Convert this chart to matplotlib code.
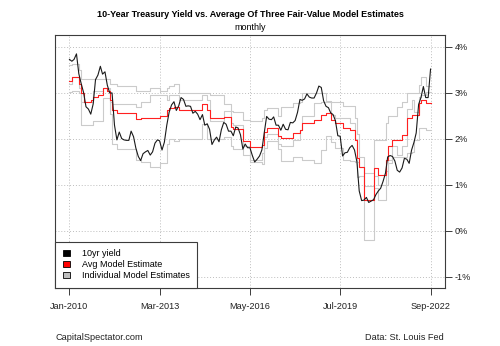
import matplotlib
matplotlib.use("Agg")
import matplotlib.pyplot as plt
import matplotlib.dates as mdates
from matplotlib.patches import Patch
import pandas as pd

# rendimiento mensual del bono a 10 anos (%), ene-2010 a sep-2022
rend_10y = [3.73, 3.69, 3.73, 3.85, 3.42, 3.20, 3.01, 2.70, 2.65, 2.54, 2.76, 3.29,
            3.39, 3.58, 3.41, 3.46, 3.17, 3.00, 3.00, 2.30, 1.98, 2.15, 2.01, 1.98,
            1.97, 1.97, 2.17, 2.05, 1.80, 1.62, 1.53, 1.68, 1.72, 1.75, 1.65, 1.72,
            1.91, 1.98, 1.96, 1.76, 1.93, 2.30, 2.58, 2.74, 2.81, 2.62, 2.72, 2.90,
            2.86, 2.71, 2.72, 2.71, 2.56, 2.60, 2.54, 2.42, 2.53, 2.30, 2.33, 2.21,
            1.88, 1.98, 2.04, 1.94, 2.20, 2.36, 2.32, 2.17, 2.17, 2.07, 2.26, 2.24,
            2.09, 1.78, 1.89, 1.81, 1.81, 1.64, 1.50, 1.56, 1.63, 1.76, 2.14, 2.49,
            2.43, 2.42, 2.48, 2.30, 2.30, 2.19, 2.32, 2.21, 2.20, 2.36, 2.35, 2.40,
            2.58, 2.86, 2.84, 2.87, 2.98, 2.91, 2.89, 2.89, 3.00, 3.15, 3.12, 2.83,
            2.71, 2.68, 2.57, 2.53, 2.40, 2.07, 2.06, 1.63, 1.70, 1.71, 1.81, 1.86,
            1.76, 1.50, 0.87, 0.66, 0.67, 0.73, 0.62, 0.65, 0.68, 0.79, 0.87, 0.93,
            1.08, 1.26, 1.61, 1.64, 1.62, 1.52, 1.32, 1.28, 1.37, 1.58, 1.56, 1.47,
            1.76, 1.93, 2.13, 2.75, 2.90, 3.14, 2.90, 2.90, 3.52]

# media de los tres modelos (cambios escalonados)
fechas_media = ["2010-01", "2010-02", "2010-05", "2010-06", "2010-07", "2010-10",
                "2010-11", "2011-01", "2011-03", "2011-05", "2011-06", "2011-07",
                "2011-09", "2012-05", "2012-07", "2013-03", "2013-06", "2013-07",
                "2013-09", "2013-11", "2014-09", "2014-11", "2014-12", "2015-06",
                "2015-09", "2015-10", "2016-02", "2016-05", "2016-10", "2016-11",
                "2016-12", "2017-05", "2017-06", "2017-11", "2018-02", "2018-03",
                "2018-08", "2018-11", "2019-01", "2019-03", "2019-05", "2019-08",
                "2019-11", "2020-01", "2020-02", "2020-03", "2020-05", "2020-09",
                "2020-11", "2021-02", "2021-03", "2021-05", "2021-09", "2021-11",
                "2022-01", "2022-04", "2022-05", "2022-07", "2022-09"]
media_modelos = [3.26, 3.34, 3.20, 3.00, 2.80, 2.85, 2.92, 2.96, 3.10, 3.05, 2.85, 2.62,
                 2.57, 2.43, 2.45, 2.49, 2.62, 2.68, 2.70, 2.62, 2.76, 2.62, 2.45, 2.47,
                 2.27, 2.22, 1.95, 1.82, 1.87, 2.16, 2.24, 2.06, 2.02, 2.12, 2.20, 2.35,
                 2.42, 2.52, 2.56, 2.42, 2.35, 2.24, 2.20, 1.98, 1.59, 1.40, 0.68, 1.37,
                 1.22, 1.55, 1.84, 1.98, 2.09, 2.45, 2.52, 2.78, 2.85, 2.79, 2.79]

# estimaciones individuales de cada modelo
fechas_modelos = ["2010-01", "2010-02", "2010-05", "2010-06", "2010-11", "2011-03",
                  "2011-06", "2011-07", "2011-09", "2012-05", "2012-07", "2012-11",
                  "2013-03", "2013-06", "2013-07", "2013-09", "2013-11", "2014-09",
                  "2014-11", "2014-12", "2015-06", "2015-09", "2015-10", "2016-02",
                  "2016-05", "2016-10", "2016-11", "2016-12", "2017-05", "2017-06",
                  "2017-11", "2018-02", "2018-03", "2018-08", "2018-11", "2019-01",
                  "2019-03", "2019-05", "2019-08", "2019-11", "2020-01", "2020-02",
                  "2020-03", "2020-05", "2020-09", "2020-11", "2021-02", "2021-03",
                  "2021-05", "2021-07", "2021-09", "2021-11", "2022-01", "2022-02",
                  "2022-04", "2022-05", "2022-07", "2022-09"]
modelo_a = [3.60, 3.62, 3.50, 3.30, 3.30, 3.30, 3.20, 3.20, 3.15, 3.05, 3.05, 3.10,
            3.05, 3.10, 3.15, 3.20, 3.00, 3.00, 3.00, 2.95, 2.75, 2.60, 2.58, 2.42,
            2.40, 2.45, 2.62, 2.68, 2.50, 2.70, 2.78, 2.80, 3.00, 3.00, 3.00, 2.82,
            2.80, 2.80, 2.72, 2.72, 2.45, 2.10, 1.60, 1.27, 1.98, 1.98, 2.35, 2.49,
            2.49, 2.70, 2.81, 3.00, 3.00, 3.00, 3.18, 3.35, 3.15, 3.15]
modelo_b = [3.20, 3.35, 3.10, 2.80, 3.05, 3.10, 2.80, 2.75, 2.75, 2.70, 2.80, 2.95,
            2.95, 2.85, 2.95, 2.95, 2.85, 2.95, 2.85, 2.40, 2.60, 2.35, 2.30, 1.85,
            1.55, 1.70, 2.05, 2.10, 1.90, 1.85, 1.98, 2.20, 2.50, 2.78, 2.80, 2.80,
            2.52, 2.45, 2.45, 2.35, 2.00, 1.50, 1.40, 0.97, 1.20, 1.00, 1.30, 1.55,
            1.85, 1.65, 1.85, 2.65, 2.85, 2.58, 2.92, 2.96, 3.02, 3.02]
modelo_c = [3.03, 3.05, 3.00, 2.30, 2.40, 2.90, 2.55, 1.90, 1.78, 1.55, 1.50, 1.40,
            1.47, 1.90, 2.00, 1.95, 2.00, 2.33, 2.00, 2.00, 2.05, 1.85, 1.78, 1.65,
            1.50, 1.46, 1.80, 1.95, 1.78, 1.52, 1.60, 1.60, 1.55, 1.48, 1.76, 2.06,
            1.94, 1.80, 1.55, 1.53, 1.50, 1.17, 1.20, -0.20, 0.93, 0.68, 1.00, 1.48,
            1.60, 1.60, 1.61, 1.70, 1.71, 1.98, 2.24, 2.24, 2.20, 2.20]

etiquetas_y = [-1, 0, 1, 2, 3, 4]
fechas_ticks = ["2010-01", "2013-03", "2016-05", "2019-07", "2022-09"]

GRIS = "#cbcbcb"
ROJO = "#ff2020"
NEGRO = "#1a1a1a"

plt.rcParams["font.family"] = ["Liberation Sans", "DejaVu Sans"]

meses = pd.date_range("2010-01-01", periods=len(rend_10y), freq="MS")
fig = plt.figure(figsize=(5.0, 3.46), dpi=100)
ax = fig.add_axes([0.11, 0.1676, 0.78, 0.7312])

for modelo in (modelo_a, modelo_b, modelo_c):
    ax.plot(pd.to_datetime(fechas_modelos), modelo, color=GRIS, lw=0.8,
            drawstyle="steps-post", zorder=2)
ax.plot(pd.to_datetime(fechas_media), media_modelos, color=ROJO, lw=0.8,
        drawstyle="steps-post", zorder=3)
ax.plot(meses, rend_10y, color=NEGRO, lw=0.8, zorder=4)

# margen del 4% a cada lado del rango de fechas
x0, x1 = mdates.date2num(meses[0]), mdates.date2num(meses[-1])
margen = 0.04 * (x1 - x0)
ax.set_xlim(x0 - margen, x1 + margen)
ax.set_ylim(-1.24, 4.26)

ticks_x = pd.to_datetime(fechas_ticks)
ax.set_xticks(ticks_x)
ax.set_xticklabels([f.strftime("%b-%Y") for f in ticks_x])
ax.set_yticks(etiquetas_y)
ax.set_yticklabels([f"{v}%" for v in etiquetas_y])
ax.yaxis.tick_right()

ax.grid(True, color="#bdbdbd", linestyle=(0, (1, 2)), linewidth=0.7)
ax.set_axisbelow(True)
for lado in ax.spines.values():
    lado.set_color("#3c3c3c")
    lado.set_linewidth(0.8)
ax.tick_params(axis="x", direction="out", length=5, width=0.7, color="#3c3c3c",
               labelsize=6.6, pad=5, labelcolor="#222222")
ax.tick_params(axis="y", direction="out", length=5, width=0.7, color="#3c3c3c",
               labelsize=6.6, pad=2, labelcolor="#222222")

leyenda = [Patch(facecolor="black", edgecolor="black", lw=0.6, label="10yr yield"),
           Patch(facecolor="red", edgecolor="black", lw=0.6, label="Avg Model Estimate"),
           Patch(facecolor="#bebebe", edgecolor="black", lw=0.6,
                 label="Individual Model Estimates")]
ley = ax.legend(handles=leyenda, loc="lower left", borderaxespad=0, fontsize=6.5,
                handlelength=0.8, handleheight=0.6, handletextpad=1.3,
                labelspacing=0.22, borderpad=0.85, fancybox=False, framealpha=1,
                edgecolor="#3c3c3c")
ley.get_frame().set_linewidth(0.8)

fig.text(0.5, 1 - 14.5 / 346, "10-Year Treasury Yield vs. Average Of Three Fair-Value Model Estimates",
         ha="center", va="center", fontsize=6.5, fontweight="bold")
fig.text(0.5, 1 - 28 / 346, "monthly", ha="center", va="center", fontsize=6.5)
fig.text(55 / 500, 1 - 337 / 346, "CapitalSpectator.com", ha="left", va="center",
         fontsize=6.6, color="#222222")
fig.text(444 / 500, 1 - 337 / 346, "Data: St. Louis Fed", ha="right", va="center",
         fontsize=6.6, color="#222222")

fig.savefig("out.png", dpi=100)
